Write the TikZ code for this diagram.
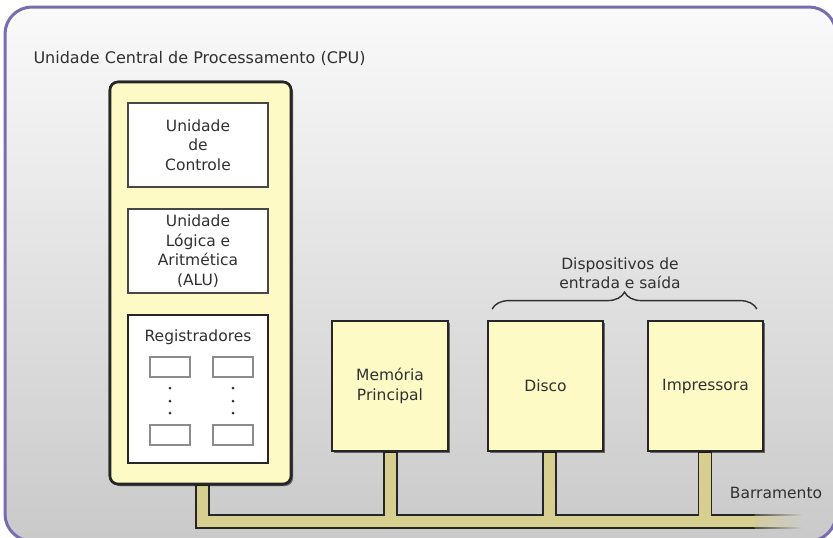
\documentclass[tikz,border=0pt]{standalone}
\usepackage{fontspec}
\setmainfont{DejaVu Sans}
\usetikzlibrary{calc,shadows,fadings,decorations.pathreplacing}

\definecolor{framecol}{RGB}{122,108,176}
\definecolor{pale}{RGB}{253,250,198}
\definecolor{buscol}{RGB}{214,207,143}
\definecolor{txt}{RGB}{48,48,48}
\definecolor{edge}{RGB}{38,38,38}

\begin{document}
\begin{tikzpicture}[x=1pt,y=-1pt,
  lbl/.style={text=txt, font=\fontsize{15.5}{19.5}\selectfont, align=center},
  shade box/.style={drop shadow={shadow xshift=2pt, shadow yshift=-2pt, opacity=.3, fill=black}},
  cpubox/.style={draw=edge, line width=2.6pt, fill=pale, rounded corners=8pt,
    minimum width=181, minimum height=402, shade box},
  unitbox/.style={lbl, draw=edge!85, line width=1.6pt, fill=white,
    minimum width=140, minimum height=84},
  regbox/.style={draw=edge, line width=2pt, fill=white, minimum width=140, minimum height=148},
  cell/.style={draw=black!45, line width=1.1pt, fill=white, minimum width=40, minimum height=20},
  devbox/.style={lbl, draw=edge, line width=1.8pt, fill=pale, minimum height=130, shade box},
  dot/.style={fill=txt, circle, inner sep=0pt, minimum size=3pt},
]
\useasboundingbox (0,0) rectangle (833,538);
\clip (0,0) rectangle (833,538);

% page and rounded frame
\fill[white] (0,0) rectangle (833,538);
\shade[top color=white!98!black, bottom color=white!79!black, rounded corners=27pt]
  (5,7) rectangle (836,541);
\draw[framecol, line width=3pt, rounded corners=27pt] (5,7) rectangle (836,541);

% title
\node[lbl, font=\fontsize{16}{19.5}\selectfont, anchor=base west] (title) at (30,63)
  {Unidade Central de Processamento (CPU)};

% CPU and devices (placed first so the bus can hang off them)
\node[cpubox] (cpu) at (200.5,283) {};
\node[devbox, minimum width=116] (mem)  at (390,386)   {Memória\\Principal};
\node[devbox, minimum width=115] (disk) at (545.5,386) {Disco};
\node[devbox, minimum width=115] (prn)  at (705.5,386) {Impressora};

% bus stems
\coordinate (s1) at ($(cpu.south)+(2,0)$);
\coordinate (s2) at ($(mem.south)+(0.5,0)$);
\coordinate (s3) at ($(disk.south)+(4,0)$);
\coordinate (s4) at ($(prn.south)+(-0.5,0)$);

\filldraw[fill=buscol, draw=edge, line width=1.5pt, line join=miter]
  (755,528) -- ($(s1 |- 0,528)+(-6.5,0)$) -- ($(s1)+(-6.5,0)$) -- ($(s1)+(6.5,0)$)
  -- ($(s1 |- 0,515)+(6.5,0)$) -- ($(s2 |- 0,515)+(-6.5,0)$) -- ($(s2)+(-6.5,0)$)
  -- ($(s2)+(6.5,0)$) -- ($(s2 |- 0,515)+(6.5,0)$) -- ($(s3 |- 0,515)+(-6.5,0)$)
  -- ($(s3)+(-6.5,0)$) -- ($(s3)+(6.5,0)$) -- ($(s3 |- 0,515)+(6.5,0)$)
  -- ($(s4 |- 0,515)+(-6.5,0)$) -- ($(s4)+(-6.5,0)$) -- ($(s4)+(6.5,0)$)
  -- ($(s4 |- 0,515)+(6.5,0)$) -- (755,515);
% fading tail of the bus
\begin{scope}
  \path[scope fading=east] (738,510) rectangle (802,533);
  \fill[buscol] (754,515) rectangle (802,528);
  \draw[edge, line width=1.5pt] (754,515) -- (802,515) (754,528) -- (802,528);
\end{scope}

% redraw boxes over the stem tops
\node[cpubox] at (cpu) {};
\node[devbox, minimum width=116] at (mem)  {Memória\\Principal};
\node[devbox, minimum width=115] at (disk) {Disco};
\node[devbox, minimum width=115] at (prn)  {Impressora};

% CPU contents
\node[unitbox] (uc)  at (198,145) {Unidade\\de\\Controle};
\node[unitbox] (alu) at (198,251) {Unidade\\Lógica e\\Aritmética\\(ALU)};
\node[regbox]  (reg) at (198,389) {};
\node[lbl] (regtxt) at (198,337) {Registradores};
\node[cell] (r1) at (170,367) {};
\node[cell] (r2) at (233,367) {};
\node[cell] (r3) at (170,435) {};
\node[cell] (r4) at (233,435) {};
\foreach \yy in {388,401,413} {
  \node[dot] at (r1 |- 0,\yy) {};
  \node[dot] at (r2 |- 0,\yy) {};
}

% I/O brace and label
\coordinate (bl) at ($(disk.north west)+(5,-11)$);
\coordinate (br) at ($(prn.north east)+(-7,-11)$);
\draw[txt, line width=1.4pt, decorate, decoration={brace, amplitude=17pt}] (bl) -- (br);
\node[lbl] (io) at (620,273) {Dispositivos de\\entrada e saída};

% bus label
\node[lbl] (bus) at (776,493) {Barramento};
\end{tikzpicture}
\end{document}
